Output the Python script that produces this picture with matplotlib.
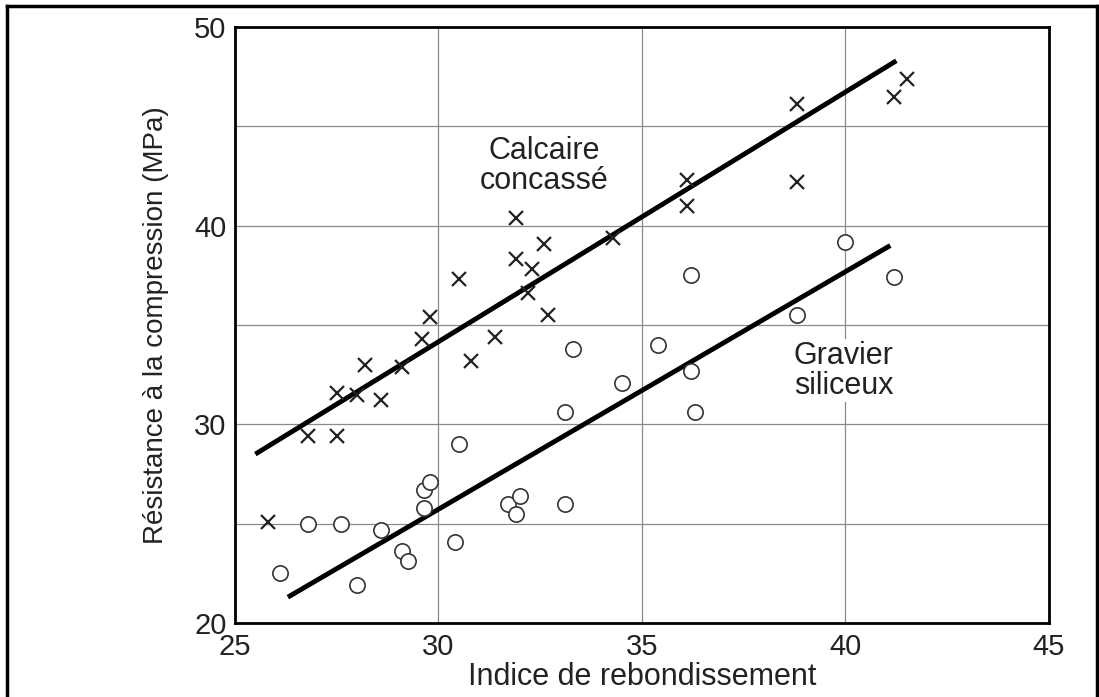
import matplotlib.pyplot as plt
from matplotlib.lines import Line2D

# Calcaire concassé (crosses)
calc_x = [25.8, 26.8, 27.5, 27.5, 28.0, 28.6, 28.2, 29.1, 29.6, 29.8, 30.5, 30.8, 31.4,
          31.9, 31.9, 32.3, 32.2, 32.7, 32.6, 34.3, 36.1, 36.1, 38.8, 38.8, 41.2, 41.5]
calc_y = [25.1, 29.4, 29.4, 31.6, 31.5, 31.2, 33.0, 32.9, 34.3, 35.4, 37.3, 33.2, 34.4,
          40.4, 38.3, 37.8, 36.6, 35.5, 39.1, 39.4, 42.3, 41.0, 46.1, 42.2, 46.5, 47.4]

# Gravier siliceux (circles)
grav_x = [26.1, 26.8, 27.6, 28.0, 28.6, 29.1, 29.25, 29.65, 29.65, 29.8, 30.5, 30.4, 31.7,
          32.0, 31.9, 33.1, 33.1, 33.3, 34.5, 35.4, 36.2, 36.3, 36.2, 38.8, 40.0, 41.2]
grav_y = [22.5, 25.0, 25.0, 21.9, 24.7, 23.6, 23.1, 25.8, 26.7, 27.1, 29.0, 24.1, 26.0,
          26.4, 25.5, 26.0, 30.6, 33.8, 32.1, 34.0, 32.7, 30.6, 37.5, 35.5, 39.2, 37.4]

# regression lines (end points)
calc_line_x = [25.5, 41.25]
calc_line_y = [28.5, 48.3]
grav_line_x = [26.3, 41.1]
grav_line_y = [21.3, 39.0]

xticks = [25, 30, 35, 40, 45]
yticks = [20, 25, 30, 35, 40, 45, 50]
ytick_labels = ['20', '', '30', '', '40', '', '50']

plt.rcParams['font.family'] = ['Liberation Sans', 'DejaVu Sans']

fig = plt.figure(figsize=(10.99, 6.97), dpi=100)
ax = fig.add_axes([0.2138, 0.1062, 0.7407, 0.8551])

ax.plot(calc_line_x, calc_line_y, color='black', lw=3.5, solid_capstyle='butt', zorder=3)
ax.plot(grav_line_x, grav_line_y, color='black', lw=3.5, solid_capstyle='butt', zorder=3)

ax.plot(calc_x, calc_y, 'x', color='#222222', ms=10, mew=1.6, zorder=4)
ax.plot(grav_x, grav_y, 'o', mfc='white', mec='#333333', ms=11, mew=1.2, zorder=4)

ax.text(32.6, 43.0, 'Calcaire\nconcassé', ha='center', va='center', fontsize=22,
        linespacing=1.0, color='#222222')
ax.text(39.95, 32.7, 'Gravier\nsiliceux', ha='center', va='center', fontsize=22,
        linespacing=1.0, color='#222222', zorder=5,
        bbox=dict(facecolor='white', edgecolor='none', pad=1))

ax.set_xlim(25, 45)
ax.set_ylim(20, 50)
ax.set_xticks(xticks)
ax.set_yticks(yticks)
ax.set_yticklabels(ytick_labels)
ax.grid(True, color='#8a8a8a', lw=0.9)
ax.tick_params(which='both', length=0)
ax.tick_params(axis='x', labelsize=21, pad=7, colors='#222222')
ax.tick_params(axis='y', labelsize=21, pad=6, colors='#222222')
for s in ax.spines.values():
    s.set_linewidth(2.0)
    s.set_zorder(6)

ax.set_xlabel('Indice de rebondissement', fontsize=22, labelpad=1, color='#222222')
ax.set_ylabel('Résistance à la compression (MPa)', fontsize=20, labelpad=18, color='#222222')

# outer frame of the scanned page
for xs, ys in [([0.0065, 0.0065], [0, 0.991]), ([0.0065, 0.998], [0.991, 0.991]),
               ([0.998, 0.998], [0, 0.991])]:
    fig.add_artist(Line2D(xs, ys, color='black', lw=2.5, transform=fig.transFigure))

fig.savefig('out.png', dpi=100)
